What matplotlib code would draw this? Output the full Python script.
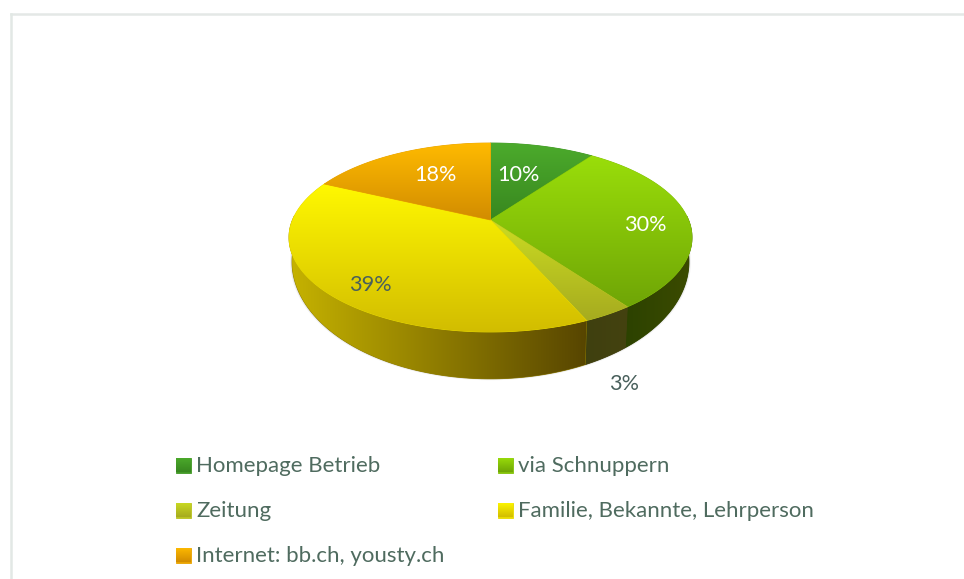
# plot.py
# Tilted 3D-look pie with gradient slices, drawn in pixel coordinates

import numpy as np
import matplotlib
matplotlib.use("Agg")
import matplotlib.pyplot as plt
from matplotlib.colors import to_rgb
from matplotlib.patches import Polygon

plt.rcParams['font.family'] = ['Lato', 'DejaVu Sans']

categories = ["Homepage Betrieb", "via Schnuppern", "Zeitung",
              "Familie, Bekannte, Lehrperson", "Internet: bb.ch, yousty.ch"]
values = [10, 30, 3.4, 38.6, 18]
value_labels = ["10%", "30%", "3%", "39%", "18%"]

top_colors = [("#4cab2c", "#38871f"), ("#9ade0a", "#6fa506"), ("#cbdc22", "#a6ab1f"),
              ("#fff800", "#d2bd00"), ("#ffbb00", "#d28c00")]
side_colors = [("#2a3f00", "#2a3f00"), ("#2c4200", "#3c4b00"), ("#3f4010", "#44420f"),
               ("#c6b300", "#574500"), ("#8a5d00", "#8a5d00")]
label_colors = ["white", "white", "#49605c", "#49605c", "white"]
label_pos = [(518, 175), (645, 225), (624, 384), (370, 285), (435, 175)]

TEXT_COLOR = "#4f6b5f"
LABEL_SIZE = 15.6
LEGEND_SIZE = 16

# projection of the unit circle, gives the perspective of the disc
CX, CY = 490.5, 220
BX, AY, P = 198, 91.25, 0.185
# lower rim is a bit narrower and rounder than the top face
LOW_X, LOW_Y, LOW_DY = 0.985, 1.24, 20


def project(theta, xscale=1.0, yscale=1.0, dy=0.0):
    # theta in radians, clockwise from 12 o'clock
    s, c = np.cos(theta), np.sin(theta)
    w = 1 + P * s
    return CX + xscale * BX * c / w, CY + dy - yscale * AY * s / w


def fill_gradient(ax, poly, c1, c2, horizontal=False, zorder=2):
    xy = poly.get_xy()
    x0, x1 = xy[:, 0].min(), xy[:, 0].max()
    y0, y1 = xy[:, 1].min(), xy[:, 1].max()
    t = np.linspace(0, 1, 256)[:, None]
    a, b = np.array(to_rgb(c1)), np.array(to_rgb(c2))
    img = (1 - t) * a + t * b
    img = img[None, :, :] if horizontal else img[:, None, :]
    # solid underlay hides the pale seam between clipped images
    ax.add_patch(Polygon(xy, closed=True, facecolor=(a + b) / 2, edgecolor=(a + b) / 2,
                         lw=0.6, zorder=zorder - 0.001))
    im = ax.imshow(img, extent=(x0, x1, y1, y0), aspect='auto', origin='upper',
                   interpolation='bilinear', zorder=zorder)
    ax.add_patch(poly)
    poly.set_visible(False)
    im.set_clip_path(poly)


fig = plt.figure(figsize=(9.64, 5.79), dpi=100)
ax = fig.add_axes([0, 0, 1, 1])
ax.axis('off')

# chart frame, only top and left show
ax.plot([11, 964], [14, 14], color="#e4e8e6", lw=1.8, zorder=1)
ax.plot([11, 11], [14, 579], color="#e2e8e5", lw=1.8, zorder=1)

# soft shadow under the disc
full = np.linspace(0, 2 * np.pi, 361)
for grow, alpha in [(1.010, 0.07), (1.005, 0.12)]:
    sx, sy = project(full, LOW_X * grow, LOW_Y * grow, LOW_DY)
    ax.add_patch(Polygon(np.column_stack([sx, sy]), closed=True, color="#555555",
                         alpha=alpha, lw=0, zorder=1.5))

edges = np.radians(np.cumsum([0] + values) * 3.6)

# sides first, back to front
for i in range(len(values)):
    th = np.linspace(edges[i], edges[i + 1], 200)
    # only the part facing the viewer counts for the gradient
    th = th[(th > np.pi / 2 - 0.05) & (th < 3 * np.pi / 2 + 0.05)]
    if len(th) < 2:
        continue
    x1, y1 = project(th)
    x2, y2 = project(th, LOW_X, LOW_Y, LOW_DY)
    pts = np.column_stack([np.r_[x1, x2[::-1]], np.r_[y1, y2[::-1]]])
    fill_gradient(ax, Polygon(pts, closed=True), *side_colors[i], horizontal=True,
                  zorder=2 + i * 0.01)

# top faces
for i in range(len(values)):
    th = np.linspace(edges[i], edges[i + 1], 200)
    x, y = project(th)
    pts = np.column_stack([np.r_[CX, x], np.r_[CY, y]])
    fill_gradient(ax, Polygon(pts, closed=True), *top_colors[i], zorder=3 + i * 0.01)

# data labels
for lab, (lx, ly), col in zip(value_labels, label_pos, label_colors):
    ax.text(lx, ly, lab, color=col, fontsize=LABEL_SIZE, ha='center', va='center', zorder=5)

# legend, two columns filled row by row
col_x = [176, 498]
row_y = [465, 510, 555]
SW = 15
for i, name in enumerate(categories):
    lx, ly = col_x[i % 2], row_y[i // 2]
    swatch = Polygon([(lx, ly - SW / 2), (lx + SW, ly - SW / 2),
                      (lx + SW, ly + SW / 2), (lx, ly + SW / 2)], closed=True)
    fill_gradient(ax, swatch, *top_colors[i], zorder=4)
    ax.text(lx + 20, ly + 1, name, color=TEXT_COLOR, fontsize=LEGEND_SIZE, ha='left', va='center', zorder=5)

ax.set_xlim(0, 964)
ax.set_ylim(579, 0)
fig.savefig("out.png", dpi=100, facecolor="white")
plt.close(fig)
